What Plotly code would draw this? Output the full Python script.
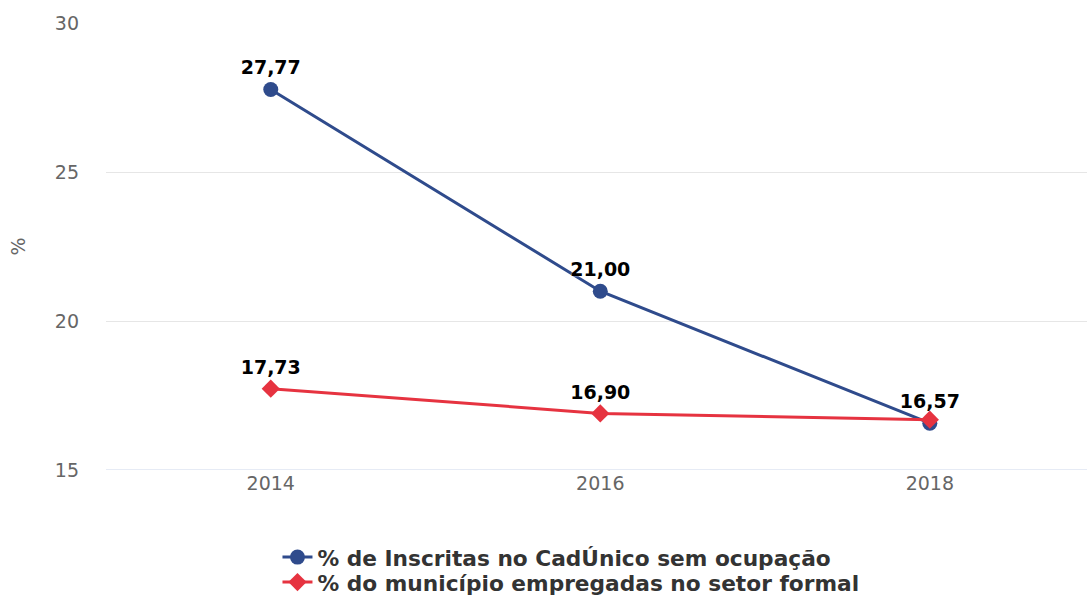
import plotly.graph_objects as go

categories = ["2014", "2016", "2018"]
series_names = ["% de Inscritas no CadÚnico sem ocupação",
                "% do município empregadas no setor formal"]
inscritas = [27.77, 21.00, 16.57]
empregadas = [17.73, 16.90, 16.69]
# label shown flags (red 2018 label is hidden by overlap in the reference)
show_inscritas = [True, True, True]
show_empregadas = [True, True, False]
y_ticks = [15, 20, 25, 30]

def fmt(v):
    return f"{v:.2f}".replace(".", ",")

FONT = "DejaVu Sans"
BLUE = "#2F4B8C"
RED = "#E63340"

fig = go.Figure()
fig.add_trace(go.Scatter(
    x=categories, y=inscritas, name=series_names[0], mode="lines+markers+text",
    line=dict(color=BLUE, width=3),
    marker=dict(symbol="circle", size=15, color=BLUE),
    text=[fmt(v) if s else "" for v, s in zip(inscritas, show_inscritas)],
    textposition="top center",
    textfont=dict(family=FONT, size=19, color="#000000", weight="bold",
                  shadow="0px 0px 2px #ffffff"),
    cliponaxis=False, legend="legend",
))
fig.add_trace(go.Scatter(
    x=categories, y=empregadas, name=series_names[1], mode="lines+markers+text",
    line=dict(color=RED, width=3),
    marker=dict(symbol="diamond", size=14, color=RED),
    text=[fmt(v) if s else "" for v, s in zip(empregadas, show_empregadas)],
    textposition="top center",
    textfont=dict(family=FONT, size=19, color="#000000", weight="bold",
                  shadow="0px 0px 2px #ffffff"),
    cliponaxis=False, legend="legend2",
))

legend_common = dict(
    orientation="v", x=0.1748, xanchor="left", yanchor="top",
    font=dict(family=FONT, size=21.7, color="#333333", weight="bold"),
    itemwidth=30, tracegroupgap=0, borderwidth=0, bgcolor="rgba(0,0,0,0)",
)

fig.update_layout(
    width=1087, height=601,
    margin=dict(l=106, r=0, t=23, b=131, autoexpand=False),
    paper_bgcolor="white", plot_bgcolor="white",
    font=dict(family=FONT, color="#666666", size=18),
    showlegend=True,
    legend=dict(y=-0.1488, **legend_common),
    legend2=dict(y=-0.2047, **legend_common),
    xaxis=dict(
        type="category", range=[-0.5, 2.477], automargin=False,
        showgrid=False, zeroline=False,
        showline=False, ticks="",
        tickfont=dict(family=FONT, size=19, color="#666666"),
    ),
    yaxis=dict(
        range=[15, 30], tickvals=y_ticks, automargin=False,
        showgrid=True, gridcolor="#e6e6e6", gridwidth=1,
        zeroline=False, showline=False,
        tickfont=dict(family=FONT, size=19, color="#666666"),
        ticklabelstandoff=26,
        title=dict(text="%", font=dict(family=FONT, size=19, color="#666666"), standoff=24),
    ),
)
fig.add_shape(type="line", xref="paper", yref="y", x0=0, x1=1, y0=15, y1=15,
              line=dict(color="#ccd6eb", width=1), layer="below")

fig.write_html("out.html", config={"displayModeBar": False},
               post_script="document.body.style.margin='0';document.body.style.overflow='hidden';")
